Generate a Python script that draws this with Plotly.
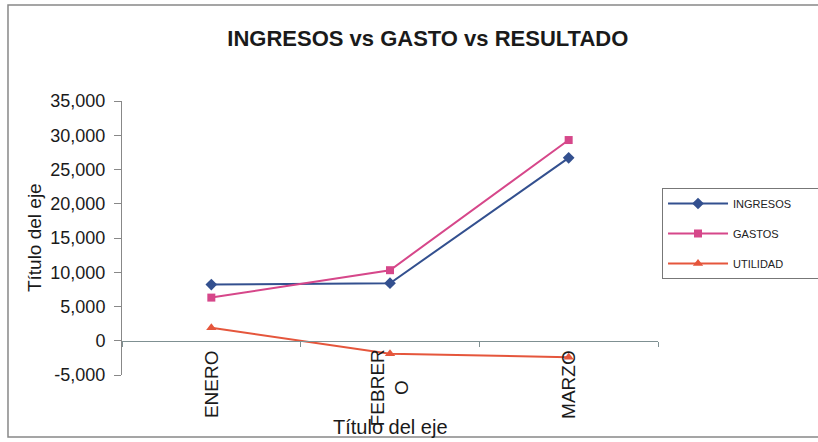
import plotly.graph_objects as go

# Monthly figures
meses = ["ENERO", "FEBRERO", "MARZO"]
etiquetas_meses = ["ENERO", "FEBRER<br>O", "MARZO"]
ingresos = [8200, 8400, 26700]
gastos = [6300, 10300, 29300]
utilidad = [1900, -1900, -2400]

y_min, y_max, y_paso = -5000, 35000, 5000
y_ticks = list(range(y_min, y_max + 1, y_paso))
y_textos = [f"{v:,} " for v in y_ticks]  # plain hyphen for negatives

fig = go.Figure()

series = [
    ("INGRESOS", ingresos, "#33508f", "diamond", 9),
    ("GASTOS", gastos, "#d6478a", "square", 8),
    ("UTILIDAD", utilidad, "#e5563c", "triangle-up", 9),
]
relleno = "\u00a0" * 7  # widens the legend box a little
for i, (nombre, valores, color, simbolo, tam) in enumerate(series):
    fig.add_trace(go.Scatter(
        x=meses, y=valores, name=nombre + relleno, mode="lines+markers",
        line=dict(color=color, width=2),
        marker=dict(symbol=simbolo, size=tam, color=color),
        legendgroup=f"g{i}",
    ))

# position of the value 0 inside the plot's vertical domain
cero = (0 - y_min) / (y_max - y_min)

# category labels sit just under the zero line, rotated, lines centred
etiquetas = [
    dict(text=t, x=m, y=0, xref="x", yref="y", textangle=-90,
         showarrow=False, align="center", xanchor="center", yanchor="top",
         yshift=-7, font=dict(size=19, color="#1a1a1a"))
    for m, t in zip(meses, etiquetas_meses)
]

fig.update_layout(
    width=818, height=442,
    margin=dict(l=122, r=160, t=101, b=67, autoexpand=False),
    paper_bgcolor="white", plot_bgcolor="white",
    font=dict(family="Liberation Sans, Arial, sans-serif", color="#222"),
    title=dict(text="<b>INGRESOS vs GASTO vs RESULTADO</b>",
               x=0.523, xanchor="center", y=0.914, yanchor="middle",
               font=dict(size=22, color="#1a1a1a")),
    showlegend=True,
    legend=dict(x=1.0075, xanchor="left", y=0.6825, yanchor="top",
                bordercolor="#777", borderwidth=1, bgcolor="white",
                font=dict(size=11, color="#222"),
                tracegroupgap=11, itemwidth=60),
    xaxis=dict(
        type="category", range=[-0.5, 2.5],
        tickvals=meses, showticklabels=False,
        showline=True, linecolor="#7f9092", linewidth=1,
        ticks="outside", ticklen=5, tickcolor="#7f9092", tickson="boundaries",
        showgrid=False, zeroline=False,
        anchor="free", position=cero,
    ),
    yaxis=dict(
        range=[y_min, y_max], tickvals=y_ticks, ticktext=y_textos,
        tickfont=dict(size=18, color="#1a1a1a"),
        showline=True, linecolor="#888", linewidth=1,
        ticks="outside", ticklen=7, tickcolor="#888",
        showgrid=False, zeroline=False,
    ),
    annotations=etiquetas + [
        dict(text="Título del eje", xref="paper", yref="paper",
             x=-0.164, y=0.5, textangle=-90, showarrow=False,
             font=dict(size=19, color="#1a1a1a"),
             xanchor="center", yanchor="middle"),
        dict(text="Título del eje", xref="paper", yref="paper",
             x=0.5, y=-0.19, showarrow=False,
             font=dict(size=20, color="#1a1a1a"),
             xanchor="center", yanchor="middle"),
    ],
    shapes=[
        dict(type="rect", xref="paper", yref="paper",
             x0=-0.2127, x1=1.35, y0=-0.226, y1=1.35,
             line=dict(color="#888", width=1.5), layer="below"),
    ],
)

fig.write_html("out.html")
